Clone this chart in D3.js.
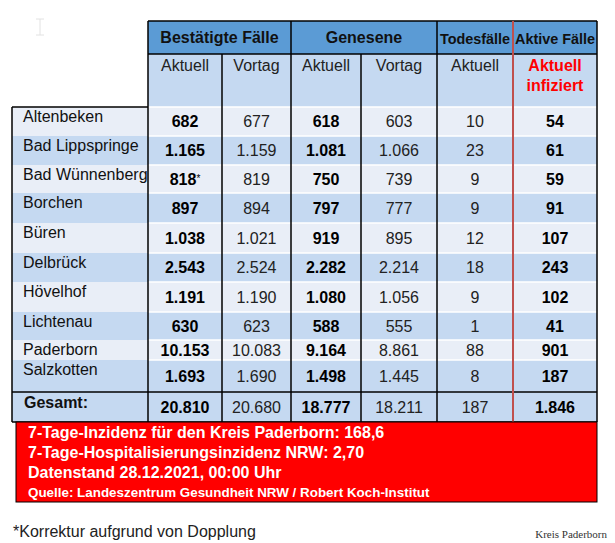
<!DOCTYPE html>
<html>
<head>
<meta charset="utf-8">
<script src="https://cdn.jsdelivr.net/npm/d3@7"></script>
<style>
  body { margin: 0; background: #fff; }
  svg { display: block; font-family: Arial, "Liberation Sans", sans-serif; }
</style>
</head>
<body>
<div id="chart"></div>
<script>
// data
const names = ['Altenbeken', 'Bad Lippspringe', 'Bad Wünnenberg', 'Borchen', 'Büren',
    'Delbrück', 'Hövelhof', 'Lichtenau', 'Paderborn', 'Salzkotten'];
const bestAktuell = [682, 1165, 818, 897, 1038, 2543, 1191, 630, 10153, 1693];
const bestVortag = [677, 1159, 819, 894, 1021, 2524, 1190, 623, 10083, 1690];
const genAktuell = [618, 1081, 750, 797, 919, 2282, 1080, 588, 9164, 1498];
const genVortag = [603, 1066, 739, 777, 895, 2214, 1056, 555, 8861, 1445];
const todesfaelle = [10, 23, 9, 9, 12, 18, 9, 1, 88, 8];
const aktiv = [54, 61, 59, 91, 107, 243, 102, 41, 901, 187];
const totals = [20810, 20680, 18777, 18211, 187, 1846];
const corrected = ['Bad Wünnenberg'];

const groupHeaders = ['Bestätigte Fälle', 'Genesene', 'Todesfälle', 'Aktive Fälle'];
const groupSpans = [[0, 2], [2, 4], [4, 5], [5, 6]];
const subHeaders = [['Aktuell'], ['Vortag'], ['Aktuell'], ['Vortag'], ['Aktuell'], ['Aktuell', 'infiziert']];
const infoLines = [
    '7-Tage-Inzidenz für den Kreis Paderborn: 168,6',
    '7-Tage-Hospitalisierungsinzidenz NRW: 2,70',
    'Datenstand 28.12.2021, 00:00 Uhr'
];
const sourceLine = 'Quelle: Landeszentrum Gesundheit NRW / Robert Koch-Institut';
const footnote = '*Korrektur aufgrund von Dopplung';
const credit = 'Kreis Paderborn';

// layout
const width = 615, height = 543;
const colEdges = [148, 222, 291, 361, 437, 513, 597];
const rowHeights = [29, 29, 28, 30, 30, 29, 30, 28, 20, 32, 30];
const tableLeft = 12, headTop = 21, subTop = 54, bodyTop = 107;
const boldCols = [0, 2, 5];

const dark = '#5b9bd5', mid = '#c5d9f1', light = '#e9eef7';
const lineRed = '#c0504d';

const de = d3.formatLocale({ decimal: ',', thousands: '.', grouping: [3], currency: ['', ' €'] });
const fmt = de.format(',d');

const columns = [bestAktuell, bestVortag, genAktuell, genVortag, todesfaelle, aktiv];

const rowTops = [bodyTop];
rowHeights.forEach((h, i) => rowTops.push(rowTops[i] + h));

const x = d3.scaleOrdinal().domain(d3.range(7)).range(colEdges);
const xc = i => (x(i) + x(i + 1)) / 2;

const svg = d3.select('#chart').append('svg')
    .attr('width', width)
    .attr('height', height);

// faint text cursor top left
svg.append('path')
    .attr('d', 'M36,19 H44 M40,19 V35 M36,35 H44')
    .attr('fill', 'none')
    .attr('stroke', '#e2e2e2')
    .attr('stroke-width', 1);

// header backgrounds
svg.append('rect')
    .attr('x', x(0)).attr('y', headTop)
    .attr('width', x(6) - x(0)).attr('height', subTop - headTop)
    .attr('fill', dark);
svg.append('rect')
    .attr('x', x(0)).attr('y', subTop)
    .attr('width', x(6) - x(0)).attr('height', bodyTop - subTop)
    .attr('fill', mid);

// body rows
const rows = names.map((n, i) => ({ name: n, i, values: columns.map(c => c[i]) }));
rows.push({ name: 'Gesamt:', i: names.length, values: totals, total: true });

svg.selectAll('.rowbg')
    .data(rows)
    .enter()
    .append('rect')
    .attr('class', 'rowbg')
    .attr('x', tableLeft)
    .attr('y', d => rowTops[d.i])
    .attr('width', x(6) - tableLeft)
    .attr('height', d => rowHeights[d.i])
    .attr('fill', d => (d.total || d.i % 2 === 1) ? mid : light);

// white separators between rows in value area
svg.selectAll('.sep')
    .data(d3.range(0, names.length))
    .enter()
    .append('line')
    .attr('x1', x(0)).attr('x2', x(6))
    .attr('y1', i => rowTops[i]).attr('y2', i => rowTops[i])
    .attr('stroke', '#fff')
    .attr('stroke-width', 1.5);

// row names
svg.selectAll('.name')
    .data(rows)
    .enter()
    .append('text')
    .attr('x', d => d.total ? 24 : 23)
    .attr('y', d => rowTops[d.i] + (d.total ? 16 : 15))
    .attr('font-size', 16)
    .attr('font-weight', d => d.total ? 'bold' : 'normal')
    .attr('fill', '#111')
    .text(d => d.name);

// values
rows.forEach(r => {
    const cy = rowTops[r.i] + rowHeights[r.i] / 2 + 5.5;
    r.values.forEach((v, c) => {
        const t = svg.append('text')
            .attr('x', xc(c))
            .attr('y', cy)
            .attr('text-anchor', 'middle')
            .attr('font-size', 16)
            .attr('font-weight', boldCols.includes(c) ? 'bold' : 'normal')
            .attr('fill', boldCols.includes(c) ? '#000' : '#222')
            .text(fmt(v));
        if (c === 0 && corrected.includes(r.name)) {
            t.append('tspan')
                .attr('font-size', 10)
                .attr('font-weight', 'normal')
                .attr('dy', -3)
                .text('*');
        }
    });
});

// group headers
svg.selectAll('.ghead')
    .data(groupHeaders)
    .enter()
    .append('text')
    .attr('x', (d, i) => (x(groupSpans[i][0]) + x(groupSpans[i][1])) / 2)
    .attr('y', (d, i) => i < 2 ? 43 : 44)
    .attr('text-anchor', 'middle')
    .attr('font-size', (d, i) => i < 2 ? 16 : 14.4)
    .attr('font-weight', 'bold')
    .attr('fill', '#111')
    .text(d => d);

// sub headers
subHeaders.forEach((lines, c) => {
    lines.forEach((l, k) => {
        svg.append('text')
            .attr('x', xc(c))
            .attr('y', 71 + k * 20)
            .attr('text-anchor', 'middle')
            .attr('font-size', 16)
            .attr('font-weight', c === 5 ? 'bold' : 'normal')
            .attr('fill', c === 5 ? '#ff0000' : '#222')
            .text(l);
    });
});

// grid lines
const bottom = rowTops[rowTops.length - 1];
const black = (x1, y1, x2, y2) => svg.append('line')
    .attr('x1', x1).attr('y1', y1).attr('x2', x2).attr('y2', y2)
    .attr('stroke', '#000').attr('stroke-width', 1.5);

black(x(0), headTop, x(6), headTop);
black(x(0), subTop, x(6), subTop);
black(tableLeft, bodyTop, x(0), bodyTop);
black(tableLeft, bodyTop, tableLeft, bottom);
black(tableLeft, rowTops[names.length], x(6), rowTops[names.length]);
black(tableLeft, bottom, x(6), bottom);
[0, 2, 4, 6].forEach(c => black(x(c), headTop, x(c), bottom));
[1, 3].forEach(c => black(x(c), subTop, x(c), bottom));
svg.append('line')
    .attr('x1', x(5)).attr('x2', x(5))
    .attr('y1', headTop).attr('y2', bottom)
    .attr('stroke', lineRed)
    .attr('stroke-width', 2);

// red info box
svg.append('rect')
    .attr('x', 16).attr('y', bottom)
    .attr('width', x(6) - 16).attr('height', 80)
    .attr('fill', '#ff0000')
    .attr('stroke', '#000')
    .attr('stroke-width', 1);

svg.selectAll('.info')
    .data(infoLines)
    .enter()
    .append('text')
    .attr('x', 28)
    .attr('y', (d, i) => bottom + 16 + i * 20)
    .attr('font-size', 16)
    .attr('font-weight', 'bold')
    .attr('fill', '#fff')
    .text(d => d);

svg.append('text')
    .attr('x', 28).attr('y', bottom + 75)
    .attr('font-size', 13.4)
    .attr('font-weight', 'bold')
    .attr('fill', '#fff')
    .text(sourceLine);

// footnote and credit
svg.append('text')
    .attr('x', 13).attr('y', 537)
    .attr('font-size', 16)
    .attr('fill', '#222')
    .text(footnote);

svg.append('text')
    .attr('x', 607).attr('y', 538)
    .attr('text-anchor', 'end')
    .attr('font-family', 'Liberation Serif, serif')
    .attr('font-size', 11)
    .attr('fill', '#333')
    .text(credit);
</script>
</body>
</html>
